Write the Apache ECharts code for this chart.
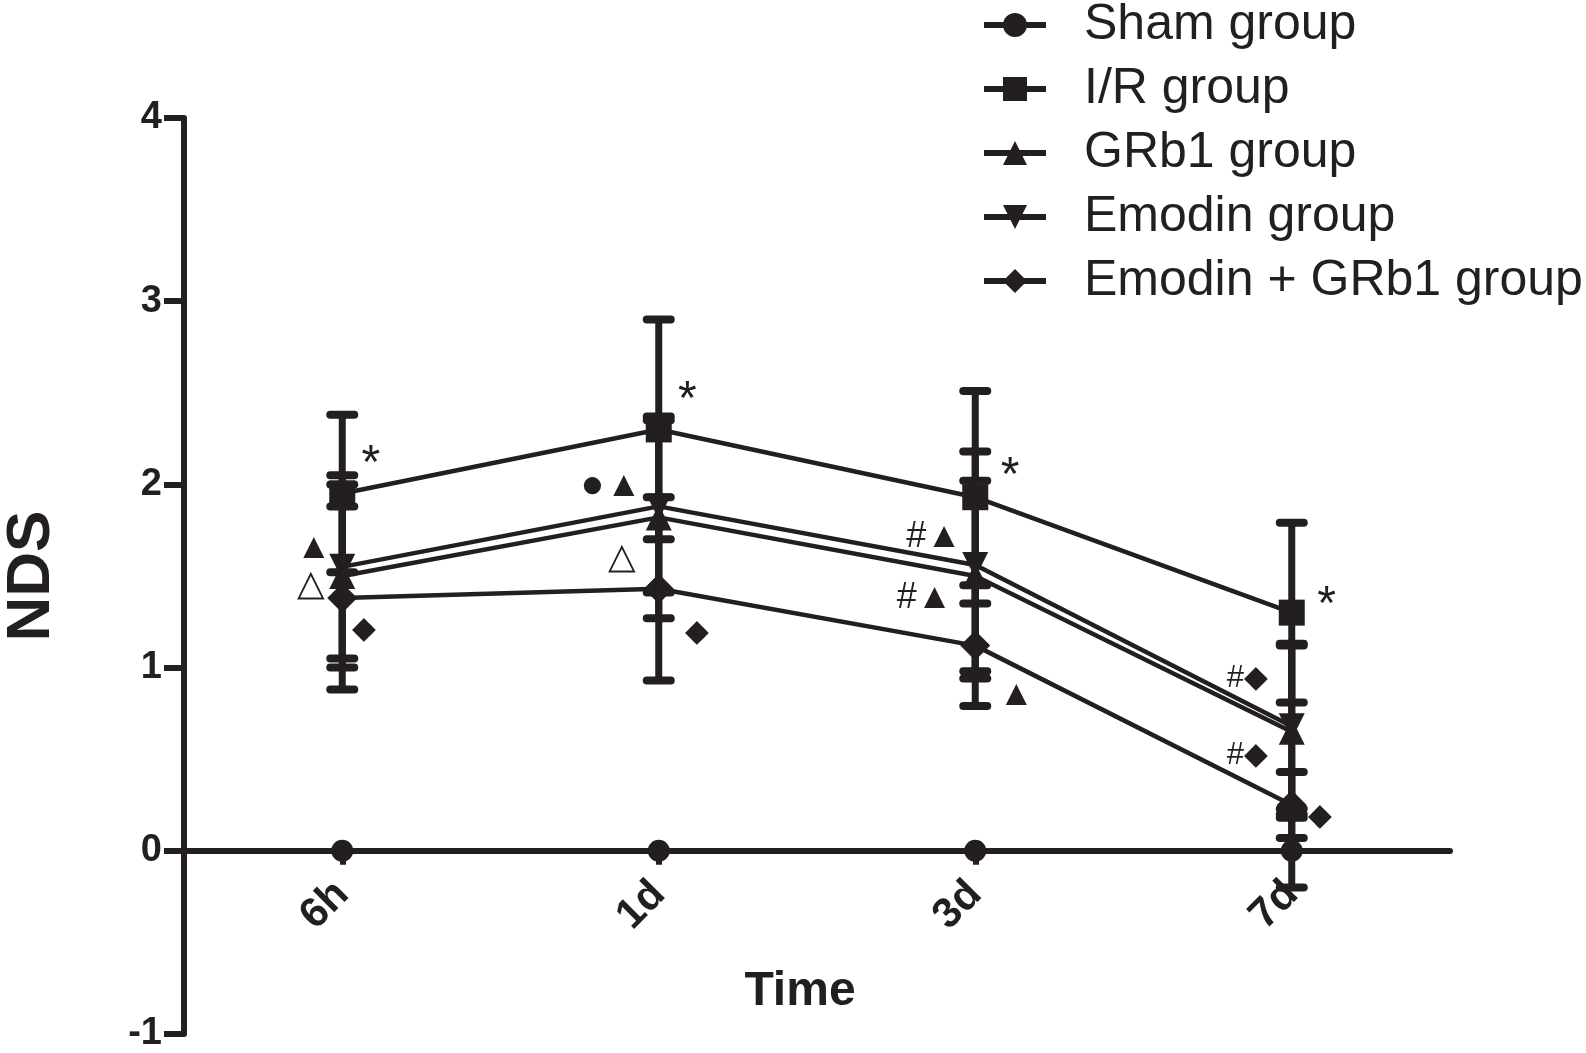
<!DOCTYPE html>
<html>
<head>
<meta charset="utf-8">
<title>NDS</title>
<script src="https://cdn.jsdelivr.net/npm/echarts@6/dist/echarts.min.js"></script>
<style>
html,body{margin:0;padding:0;background:#fff;width:100%;height:100%;overflow:hidden;}
#main{position:absolute;left:0;top:0;width:1586px;height:1053px;}
</style>
</head>
<body>
<div id="main"></div>
<script>
// time points
var times = ['6h', '1d', '3d', '7d'];
var yTicks = [-1, 0, 1, 2, 3, 4];

// group names
var groupNames = ['Sham group', 'I/R group', 'GRb1 group', 'Emodin group', 'Emodin + GRb1 group'];

// means (NDS) per time point
var shamMean   = [0, 0, 0, 0];
var irMean     = [1.95, 2.30, 1.93, 1.30];
var grb1Mean   = [1.50, 1.82, 1.50, 0.65];
var emodinMean = [1.55, 1.88, 1.56, 0.68];
var comboMean  = [1.38, 1.43, 1.12, 0.25];

// error (SD) per time point
var shamSd   = [0, 0, 0, 0.20];
var irSd     = [0.43, 0.60, 0.58, 0.49];
var grb1Sd   = [0.50, 0.55, 0.52, 0.47];
var emodinSd = [0.50, 0.47, 0.62, 0.45];
var comboSd  = [0.50, 0.50, 0.33, 0.18];

// significance marks: time index (with offset), y value, text
var markX    = [0.09, -0.09, -0.10, 0.07,  1.09, 0.79, 0.89, 0.885, 1.12,  2.11, 1.87, 1.84, 2.13,  3.11, 2.86, 2.86, 3.09];
var markY    = [2.105, 1.65, 1.45, 1.21,   2.455, 1.99, 1.99, 1.60, 1.19,   2.04, 1.71, 1.38, 0.85,   1.335, 0.94, 0.52, 0.19];
var markText = ['*', '▲', '△', '◆',        '*', '●', '▲', '△', '◆',       '*', '#▲', '#▲', '▲',      '*', '#◆', '#◆', '◆'];

var ink = '#231f20';
var font = 'Arial, "Liberation Sans", Helvetica, sans-serif';

var means = [shamMean, irMean, grb1Mean, emodinMean, comboMean];
var sds = [shamSd, irSd, grb1Sd, emodinSd, comboSd];
var symbols = ['circle', 'rect', 'triangle', 'triangle', 'diamond'];
var symbolSizes = [22, 26, 26, 26, 30];
var rotates = [0, 0, 0, 180, 0];

var myChart = echarts.init(document.getElementById('main'));

var series = [];
for (var g = 0; g < groupNames.length; g++) {
	var pts = [];
	for (var i = 0; i < times.length; i++) {
		pts.push([i, means[g][i]]);
	}
	series.push({
		name: groupNames[g],
		type: 'line',
		data: pts,
		symbol: symbols[g],
		symbolSize: symbolSizes[g],
		symbolRotate: rotates[g],
		showAllSymbol: true,
		lineStyle: {color: ink, width: 4.5},
		itemStyle: {color: ink, borderWidth: 0},
		z: 3
	});
}

// error bars
var errData = [];
for (var g = 0; g < groupNames.length; g++) {
	for (var i = 0; i < times.length; i++) {
		if (sds[g][i] > 0) {
			errData.push([i, means[g][i] - sds[g][i], means[g][i] + sds[g][i]]);
		}
	}
}
series.push({
	type: 'custom',
	name: 'err',
	data: errData,
	z: 4,
	silent: true,
	renderItem: function(params, api) {
		var x = api.value(0);
		var top = api.coord([x, api.value(2)]);
		var bot = api.coord([x, api.value(1)]);
		var half = 12;
		var cap = {stroke: ink, lineWidth: 8, lineCap: 'round'};
		return {
			type: 'group',
			children: [
				{type: 'line', shape: {x1: top[0], y1: top[1], x2: bot[0], y2: bot[1]}, style: {stroke: ink, lineWidth: 7}},
				{type: 'line', shape: {x1: top[0] - half, y1: top[1], x2: top[0] + half, y2: top[1]}, style: cap},
				{type: 'line', shape: {x1: bot[0] - half, y1: bot[1], x2: bot[0] + half, y2: bot[1]}, style: cap}
			]
		};
	}
});

// significance labels
var marks = [];
for (var k = 0; k < markText.length; k++) {
	var fs = 36;
	if (markText[k] == '*') fs = 48;
	else if (markText[k] == '●') fs = 40;
	else if (markText[k].indexOf('◆') >= 0) fs = 31;
	marks.push({
		value: [markX[k], markY[k]],
		name: markText[k],
		label: {fontSize: fs}
	});
}
series.push({
	type: 'scatter',
	name: 'marks',
	data: marks,
	symbolSize: 0,
	itemStyle: {color: ink, opacity: 1},
	silent: true,
	z: 5,
	label: {
		show: true,
		position: 'inside',
		formatter: function(p) { return p.name; },
		color: ink,
		fontFamily: font
	}
});

var option = {
	animation: false,
	backgroundColor: '#fff',
	grid: {left: 184, right: 136, top: 118, bottom: 19, outerBoundsMode: 'none', containLabel: false},
	legend: {
		data: groupNames,
		orient: 'vertical',
		left: 976,
		top: -5,
		itemWidth: 62,
		itemHeight: 30,
		itemGap: 14,
		symbolRotate: 'inherit',
		lineStyle: {width: 6},
		textStyle: {
			color: ink,
			fontSize: 50,
			fontFamily: font,
			lineHeight: 44,
			padding: [0, 0, 0, 33]
		}
	},
	xAxis: {
		type: 'value',
		min: -0.5,
		max: 3.5,
		name: 'Time',
		nameLocation: 'middle',
		nameGap: -66,
		nameTextStyle: {color: ink, fontSize: 48, fontWeight: 'bold', fontFamily: font, padding: [0, 34, 0, 0]},
		axisLine: {onZero: true, lineStyle: {color: ink, width: 6}},
		axisTick: {show: true, customValues: [0, 1, 2, 3], length: 14, lineStyle: {color: ink, width: 6}},
		axisLabel: {
			customValues: [0, 1, 2, 3],
			rotate: 45,
			margin: -146,
			color: ink,
			fontSize: 42,
			fontWeight: 'bold',
			fontFamily: font,
			formatter: function(v) { return times[Math.round(v)]; }
		},
		splitLine: {show: false}
	},
	yAxis: {
		type: 'value',
		min: yTicks[0],
		max: yTicks[yTicks.length - 1],
		interval: 1,
		name: 'NDS',
		nameLocation: 'middle',
		nameGap: 121,
		nameTextStyle: {color: ink, fontSize: 62, fontWeight: 'bold', fontFamily: font},
		axisLine: {show: true, onZero: false, lineStyle: {color: ink, width: 6}},
		axisTick: {show: true, length: 20, lineStyle: {color: ink, width: 6}},
		axisLabel: {
			margin: 22,
			color: ink,
			fontSize: 38,
			fontWeight: 'bold',
			fontFamily: font
		},
		splitLine: {show: false}
	},
	series: series
};
myChart.setOption(option);
</script>
</body>
</html>
